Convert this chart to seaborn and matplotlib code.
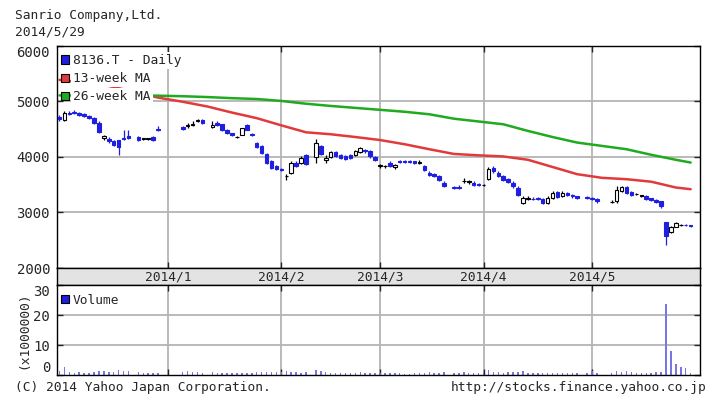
import numpy as np
import pandas as pd
import matplotlib
matplotlib.use("Agg")
import matplotlib.pyplot as plt
from matplotlib.patches import Patch
import seaborn as sns

# --- data (8136.T, Dec 2013 - May 2014) ---
start = "2013-12-02"
end = "2014-05-29"
holidays = ["2013-12-23", "2013-12-31", "2014-01-01", "2014-01-02", "2014-01-03",
            "2014-01-13", "2014-02-11", "2014-03-21", "2014-04-29", "2014-05-05",
            "2014-05-06"]

open_ = [4720, 4660, 4800, 4810, 4790, 4780, 4740, 4700, 4620, 4340, 4330, 4290, 4300, 4350, 4370, 4360, 4330, 4330, 4360, 4510,
         4540, 4560, 4580, 4650, 4660, 4540, 4610, 4590, 4480, 4430, 4360, 4400, 4580, 4420, 4250, 4200, 4060, 3920, 3830,
         3790, 3650, 3720, 3900, 3890, 4030, 4000, 4200, 3950, 4000, 4090, 4040, 4010, 4030, 4040, 4090, 4130, 4100, 4000,
         3840, 3830, 3900, 3820, 3920, 3930, 3930, 3920, 3900, 3840, 3720, 3690, 3660, 3540, 3460, 3460, 3560, 3550, 3530, 3520,
         3490, 3600, 3810, 3720, 3650, 3600, 3540, 3450, 3180, 3250, 3250, 3260, 3250, 3180, 3270, 3370, 3290, 3350, 3310, 3290, 3280,
         3260, 3240, 3190, 3200, 3380, 3460, 3370, 3330, 3300, 3300, 3260, 3230, 3200, 2820, 2640, 2740, 2770, 2780, 2770]
high = [4760, 4820, 4830, 4840, 4810, 4800, 4760, 4720, 4640, 4400, 4360, 4310, 4310, 4490, 4490, 4380, 4350, 4350, 4370, 4560,
        4560, 4620, 4640, 4690, 4680, 4650, 4640, 4600, 4500, 4440, 4380, 4530, 4600, 4440, 4270, 4220, 4080, 3940, 3850,
        3810, 3700, 3920, 3920, 4010, 4050, 4320, 4220, 4030, 4110, 4110, 4060, 4030, 4050, 4130, 4180, 4150, 4120, 4010,
        3870, 3860, 3920, 3870, 3940, 3940, 3940, 3930, 3950, 3850, 3740, 3720, 3680, 3560, 3480, 3490, 3620, 3580, 3560, 3540,
        3520, 3820, 3830, 3740, 3670, 3620, 3560, 3470, 3290, 3290, 3280, 3280, 3270, 3290, 3380, 3390, 3380, 3370, 3330, 3300, 3300,
        3280, 3260, 3220, 3480, 3470, 3470, 3380, 3360, 3320, 3310, 3270, 3240, 3210, 2830, 2750, 2820, 2790, 2790, 2780]
low = [4640, 4650, 4760, 4770, 4740, 4720, 4680, 4600, 4430, 4300, 4260, 4200, 4040, 4300, 4330, 4280, 4310, 4300, 4280, 4470,
       4480, 4530, 4550, 4630, 4600, 4520, 4560, 4460, 4420, 4370, 4340, 4390, 4480, 4380, 4160, 4060, 3880, 3790, 3760,
       3750, 3590, 3700, 3820, 3880, 3860, 3890, 4030, 3900, 3980, 4000, 3960, 3940, 3960, 4020, 4070, 4080, 3990, 3920,
       3800, 3800, 3820, 3790, 3890, 3890, 3890, 3880, 3880, 3750, 3650, 3640, 3560, 3460, 3420, 3430, 3540, 3520, 3480, 3470,
       3480, 3580, 3720, 3640, 3570, 3530, 3450, 3300, 3160, 3230, 3220, 3230, 3160, 3160, 3250, 3260, 3280, 3290, 3270, 3250, 3240,
       3220, 3180, 3170, 3180, 3370, 3340, 3300, 3310, 3280, 3230, 3210, 3180, 3090, 2420, 2630, 2730, 2750, 2750, 2740]
close = [4680, 4790, 4780, 4790, 4760, 4740, 4700, 4620, 4450, 4370, 4280, 4220, 4180, 4330, 4350, 4300, 4330, 4330, 4300, 4490,
         4510, 4580, 4600, 4660, 4620, 4580, 4580, 4480, 4440, 4390, 4360, 4520, 4490, 4390, 4180, 4080, 3900, 3810, 3780,
         3770, 3660, 3890, 3830, 3990, 3880, 4250, 4050, 3990, 4090, 4020, 3980, 3970, 3990, 4100, 4160, 4100, 4010, 3940,
         3840, 3830, 3840, 3850, 3910, 3910, 3910, 3900, 3900, 3770, 3680, 3660, 3580, 3480, 3450, 3450, 3570, 3560, 3500, 3490,
         3500, 3790, 3740, 3660, 3590, 3550, 3470, 3320, 3270, 3260, 3240, 3250, 3180, 3270, 3360, 3280, 3360, 3310, 3290, 3270, 3260,
         3240, 3200, 3190, 3400, 3460, 3350, 3310, 3340, 3300, 3240, 3220, 3190, 3110, 2580, 2740, 2810, 2770, 2770, 2760]
volume = [1.2, 2.6, 1.0, 0.8, 0.9, 0.8, 0.7, 0.9, 1.3, 1.4, 1.0, 1.1, 1.6, 1.2, 1.3, 0.9, 0.6, 0.7, 0.6, 0.8,
          1.0, 1.3, 1.0, 0.9, 0.8, 0.9, 0.7, 0.8, 0.7, 0.7, 0.6, 0.8, 0.7, 0.7, 0.9, 1.0, 1.1, 1.0, 0.9,
          1.0, 1.4, 1.1, 0.9, 0.8, 0.9, 1.8, 1.2, 0.9, 0.8, 0.7, 0.7, 0.6, 0.7, 0.8, 0.9, 0.8, 0.7, 0.8,
          0.8, 0.6, 0.7, 0.6, 0.6, 0.5, 0.5, 0.6, 0.6, 0.8, 0.9, 0.7, 0.8, 1.0, 0.7, 0.6, 0.9, 0.7, 0.7, 0.8,
          0.9, 1.7, 1.1, 0.9, 0.8, 0.9, 0.9, 1.0, 1.2, 0.8, 0.6, 0.6, 0.7, 0.6, 0.8, 0.7, 0.7, 0.6, 0.6, 0.7, 0.8,
          1.2, 0.8, 0.6, 1.2, 1.0, 1.3, 0.9, 0.8, 0.7, 0.7, 0.8, 0.9, 1.0, 23.8, 8.0, 3.7, 2.8, 2.4, 0.8]

# moving averages, one reading per week (Mondays) plus the last day
ma13 = [5390, 5340, 5280, 5180, 5070, 4995, 4910, 4800, 4700, 4570, 4445, 4410, 4360, 4306,
        4230, 4140, 4055, 4030, 4010, 3950, 3820, 3690, 3625, 3600, 3555, 3450, 3420]
ma26 = [5110, 5110, 5110, 5110, 5105, 5095, 5080, 5060, 5045, 5010, 4960, 4920, 4885, 4850,
        4815, 4770, 4690, 4640, 4590, 4470, 4360, 4260, 4200, 4140, 4040, 3950, 3900]

month_labels = ["2014/1", "2014/2", "2014/3", "2014/4", "2014/5"]
month_starts = ["2014-01-01", "2014-02-01", "2014-03-01", "2014-04-01", "2014-05-01"]

# --- positions on a weekday axis (holidays leave gaps) ---
d0 = np.datetime64(start)
days = pd.bdate_range(start, end)
days = days[~days.isin(pd.to_datetime(holidays))]
x = np.busday_count(d0, days.values.astype("datetime64[D]"))

ma_days = list(pd.date_range(start, end, freq="W-MON")) + [pd.Timestamp(end)]
ma_x = np.busday_count(d0, np.array(ma_days, dtype="datetime64[D]"))
ma_df = pd.DataFrame({
    "x": np.concatenate([ma_x, ma_x]),
    "price": ma13 + ma26,
    "line": ["13-week MA"] * len(ma13) + ["26-week MA"] * len(ma26),
})

month_x = [np.busday_count(d0, np.busday_offset(np.datetime64(m), 0, roll="forward"))
           for m in month_starts]

df = pd.DataFrame({"x": x, "open": open_, "high": high, "low": low,
                   "close": close, "volume": volume})

# --- style ---
sns.set_style("white")
plt.rcParams["font.family"] = ["DejaVu Sans Mono"]
fs = 9.3
blue = "#1f1fe0"
red = "#e23a3a"
green = "#1faa1f"
gridc = "#b4b4b4"

fig = plt.figure(figsize=(7.21, 4.19), dpi=100)
ax = fig.add_axes([57 / 721, 1 - 268 / 419, 643 / 721, 222 / 419])
band = fig.add_axes([57 / 721, 1 - 285 / 419, 643 / 721, 17 / 419])
axv = fig.add_axes([57 / 721, 1 - 375 / 419, 643 / 721, 90 / 419])

xlim = (-0.5, 129.9)

# price panel
for v in [3000, 4000, 5000]:
    ax.axhline(v, color=gridc, lw=1.3, zorder=0)
for m in month_x:
    ax.axvline(m, color=gridc, lw=1.3, zorder=0)

up = df["close"] >= df["open"]
wick_col = np.where(up, "black", blue)
ax.vlines(df["x"], df["low"], df["high"], colors=wick_col, lw=0.9, zorder=2)
body_h = np.maximum((df["close"] - df["open"]).abs(), 8)
body_b = np.minimum(df["open"], df["close"])
ax.bar(df["x"][up], body_h[up], bottom=body_b[up], width=0.72,
       color="white", edgecolor="black", linewidth=0.8, zorder=3)
ax.bar(df["x"][~up], body_h[~up], bottom=body_b[~up], width=0.72,
       color=blue, edgecolor=blue, linewidth=0.8, zorder=3)

sns.lineplot(data=ma_df, x="x", y="price", hue="line", palette=[red, green],
             linewidth=1.8, sort=False, legend=False, ax=ax, zorder=4)

ax.set_xlim(*xlim)
ax.set_ylim(2000, 6000)
ax.set_yticks([2000, 3000, 4000, 5000, 6000])
ax.set_yticklabels(["2000", "3000", "4000", "5000", "6000"], fontsize=fs + 0.8)
ax.get_yticklabels()[-1].set_va("top")
ax.set_xticks(month_x)
ax.set_xticklabels([])
ax.tick_params(axis="both", direction="in", length=4, width=1, right=True, top=True,
               left=True, bottom=True, pad=5)
ax.set_xlabel("")
ax.set_ylabel("")

handles = [Patch(facecolor=blue, edgecolor="black", lw=0.8, label="8136.T - Daily"),
           Patch(facecolor=red, edgecolor="black", lw=0.8, label="13-week MA"),
           Patch(facecolor=green, edgecolor="black", lw=0.8, label="26-week MA")]
leg = ax.legend(handles=handles, loc="upper left", bbox_to_anchor=(0.002, 0.975),
                fontsize=fs, frameon=False, borderpad=0.2,
                handlelength=0.6, handleheight=0.6, handletextpad=0.35,
                labelspacing=0.4, borderaxespad=0)
# each legend row sits on its own white strip, the MA lines pass behind
for t in leg.get_texts():
    t.set_bbox(dict(facecolor="white", edgecolor="none", pad=1.5))
for h in leg.legend_handles:
    h.set_path_effects([])
leg.set_zorder(10)

# date band
band.set_facecolor("#e3e3e3")
band.set_xlim(*xlim)
band.set_ylim(0, 1)
band.set_xticks([])
band.set_yticks([])
for m, lab in zip(month_x, month_labels):
    band.text(m, 0.45, lab, ha="center", va="center", fontsize=fs)

# volume panel
for v in [10, 20]:
    axv.axhline(v, color=gridc, lw=1.3, zorder=0)
for m in month_x:
    axv.axvline(m, color=gridc, lw=1.3, zorder=0)
axv.bar(df["x"], df["volume"], width=0.3, color="#7676e4", linewidth=0, zorder=2)
axv.set_xlim(*xlim)
axv.set_ylim(0, 30)
axv.set_yticks([0, 10, 20, 30])
axv.set_yticklabels(["0", "10", "20", "30"], fontsize=fs + 0.8)
axv.get_yticklabels()[0].set_va("bottom")
axv.get_yticklabels()[-1].set_va("top")
axv.set_xticks(month_x)
axv.set_xticklabels([])
axv.tick_params(axis="both", direction="in", length=4, width=1, right=True, top=True,
                left=True, bottom=True, pad=5)
axv.set_ylabel("(x1000000)", fontsize=fs, labelpad=2)
axv.set_xlabel("")
vleg = axv.legend(handles=[Patch(facecolor=blue, edgecolor="black", lw=0.8, label="Volume")],
                  loc="upper left", bbox_to_anchor=(0.002, 0.93), fontsize=fs, frameon=False,
                  handlelength=0.6, handleheight=0.6, handletextpad=0.35,
                  borderpad=0.2, borderaxespad=0)

for a in (ax, band, axv):
    for s in a.spines.values():
        s.set_color("black")
        s.set_linewidth(1.0)

# header / footer
fig.text(15 / 721, 1 - 15 / 419, "Sanrio Company,Ltd.", fontsize=fs, va="center", ha="left")
fig.text(15 / 721, 1 - 32 / 419, "2014/5/29", fontsize=fs, va="center", ha="left")
fig.text(15 / 721, 1 - 387 / 419, "(C) 2014 Yahoo Japan Corporation.", fontsize=fs,
         va="center", ha="left")
fig.text(707 / 721, 1 - 387 / 419, "http://stocks.finance.yahoo.co.jp", fontsize=fs,
         va="center", ha="right")

fig.savefig("out.png", dpi=100)
